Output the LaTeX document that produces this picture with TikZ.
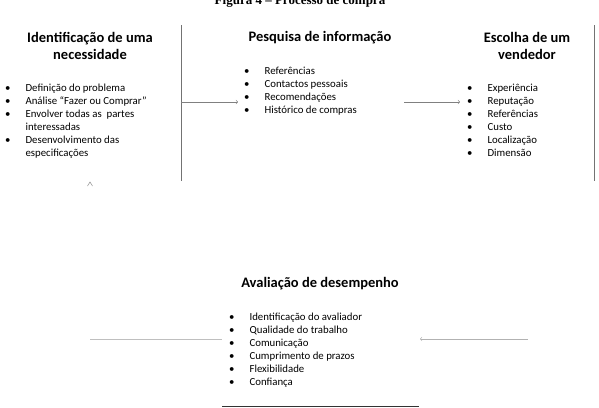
\documentclass[tikz,border=0pt]{standalone}
\usepackage{fontspec}
\setmainfont{Carlito}
\newfontfamily\titlefont{Liberation Serif}
\usetikzlibrary{arrows,positioning,calc}

\newcommand{\itemrow}[1]{\textbullet & #1\\}
\newcommand{\moreline}[1]{ & #1\\}

\begin{document}
\begin{tikzpicture}[x=1pt, y=-1pt,
                    heading/.style = {font=\fontsize{14.5}{17}\selectfont\bfseries, align=center, inner sep=0pt},
                    itemlist/.style = {anchor=north west, inner sep=0pt, font=\fontsize{10.8}{13}\selectfont},
                    bar/.style = {draw=black!55, line width=0.9pt},
                    flow/.style = {draw=black!50, line width=0.6pt, ->, >=to},
                    faint/.style = {draw=black!25, line width=0.6pt}]
                \useasboundingbox (0,0) rectangle (599,407);
                \clip (0,0) rectangle (599,407);
                % title (cut at the top)
                \node[anchor=base, inner sep=0pt, font=\titlefont\fontsize{13}{15}\selectfont\bfseries] (title) at (300,4) {Figura 4 – Processo de compra};
                % step 1
                \node[heading] (need) at (90,46) {Identificação de uma\\necessidade};
                \node[itemlist] (need list) at (5,82) {\begin{tabular}{@{}l@{\hspace{15pt}}l@{}}
                    \itemrow{Definição do problema}
                    \itemrow{Análise ``Fazer ou Comprar''}
                    \itemrow{Envolver todas as \ partes}
                    \moreline{interessadas}
                    \itemrow{Desenvolvimento das}
                    \moreline{especificações}
                  \end{tabular}};
                % step 2
                \node[heading] (search) at (320,38) {Pesquisa de informação};
                \node[itemlist] (search list) at (244,65) {\begin{tabular}{@{}l@{\hspace{15pt}}l@{}}
                    \itemrow{Referências}
                    \itemrow{Contactos pessoais}
                    \itemrow{Recomendações}
                    \itemrow{Histórico de compras}
                  \end{tabular}};
                % step 3
                \node[heading] (vendor) at (527,46) {Escolha de um\\vendedor};
                \node[itemlist] (vendor list) at (467,82) {\begin{tabular}{@{}l@{\hspace{15pt}}l@{}}
                    \itemrow{Experiência}
                    \itemrow{Reputação}
                    \itemrow{Referências}
                    \itemrow{Custo}
                    \itemrow{Localização}
                    \itemrow{Dimensão}
                  \end{tabular}};
                % step 4
                \node[heading] (perf) at (320,284) {Avaliação de desempenho};
                \node[itemlist] (perf list) at (229,311) {\begin{tabular}{@{}l@{\hspace{15pt}}l@{}}
                    \itemrow{Identificação do avaliador}
                    \itemrow{Qualidade do trabalho}
                    \itemrow{Comunicação}
                    \itemrow{Cumprimento de prazos}
                    \itemrow{Flexibilidade}
                    \itemrow{Confiança}
                  \end{tabular}};
                % dividers
                \coordinate (barA top) at (181,25);
                \coordinate (barA bot) at (181,181);
                \coordinate (barB top) at (594,25);
                \coordinate (barB bot) at (594,181);
                \draw[bar] (barA top) -- (barA bot);
                \draw[bar] (barB top) -- (barB bot);
                % connections
                \coordinate (a1) at (181,102);
                \coordinate (a2) at (404,102);
                \draw[flow] (a1) -- ($(search list.west |- a1)+(-6,0)$);
                \draw[flow] (a2) -- ($(vendor list.west |- a2)+(-7,0)$);
                \coordinate (back start) at (528,339);
                \coordinate (back end) at (420,339);
                \draw[flow, draw=black!30] (back start) -- (back end);
                \coordinate (left start) at (90,339);
                \draw[faint] (left start) -- ($(perf list.west |- left start)+(-7,0)$);
                \coordinate (base start) at (222,406);
                \coordinate (base end) at (419,406);
                \draw[draw=black!80, line width=0.9pt] (base start) -- (base end);
                % arrow tip under step 1
                \coordinate (tip) at (90,182);
                \draw[draw=black!45, line width=0.5pt] ($(tip)+(-2.5,4)$) -- (tip) -- ($(tip)+(2.5,4)$);
            \end{tikzpicture}
\end{document}
